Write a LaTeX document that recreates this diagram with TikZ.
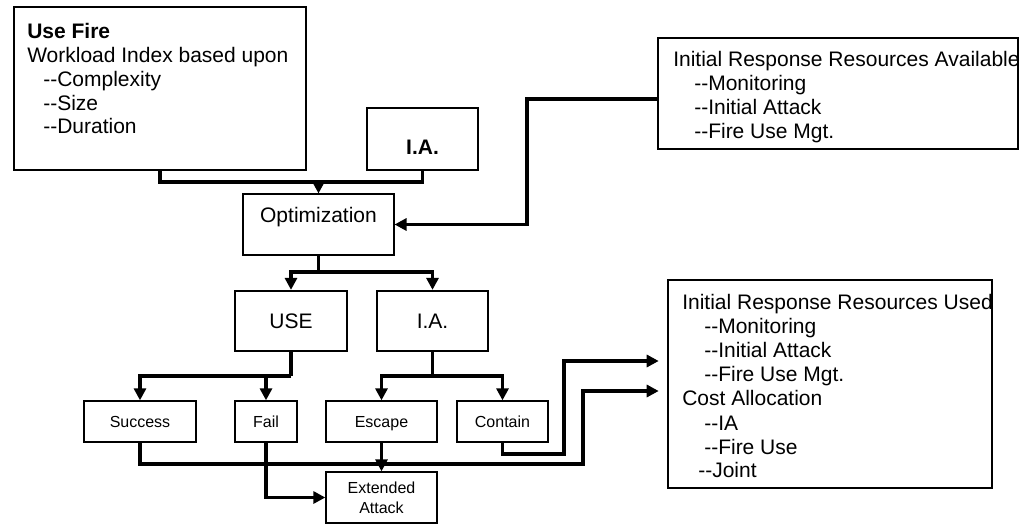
\documentclass[tikz,border=0pt]{standalone}
\usepackage{fontspec}
\setmainfont{Liberation Sans}
\usetikzlibrary{arrows.meta}
\newcommand\bigfnt{\fontsize{15.75pt}{18pt}\selectfont}
\newcommand\smallfnt{\fontsize{12pt}{15pt}\selectfont}
\newcommand\dd{\mbox{-}\mbox{-}}
\begin{document}
\begin{tikzpicture}[x=0.75pt,y=-0.75pt,
  bx/.style 2 args={draw,rectangle,inner sep=0pt,minimum width=#1*0.75pt,minimum height=#2*0.75pt},
  heavy/.style={line width=1.7pt},
  light/.style={line width=0.8pt},
  mid/.style={line width=1pt},
  txt/.style={anchor=base west,inner sep=0pt,font=\bigfnt},
  ctxt/.style={inner sep=0pt,font=\bigfnt},
  sbox/.style={font=\smallfnt,text height=8.7pt,text depth=0pt},
  stxt/.style={font=\smallfnt,align=center},
  conn/.style={line width=2.5pt},
  arr/.style={line width=2.5pt,-{Triangle[length=9pt,width=9pt]}},
]
\useasboundingbox[fill=white] (0,0) rectangle (1034,524);

% ---- top left box
\node[bx={292}{163},heavy] (uf) at (160,88.5) {};
\node[txt] (uf1) at (27,39) {\textbf{Use Fire}};
\node[txt] (uf2) at (27,62.7) {Workload Index based upon};
\node[txt] (uf3) at (43,86.4) {\dd Complexity};
\node[txt] (uf4) at (43,110.1) {\dd Size};
\node[txt] (uf5) at (43,133.8) {\dd Duration};

% ---- top I.A.
\node[bx={111}{62},heavy] (ia1) at (422.5,139) {};
\node[ctxt] (ia1t) at (422.5,147) {\textbf{I.A.}};

% ---- available resources
\node[bx={360}{111},line width=1.9pt] (avail) at (838,93.5) {};
\node[txt] (av1) at (673,67) {Initial Response Resources Available};
\node[txt] (av2) at (694,91) {\dd Monitoring};
\node[txt] (av3) at (694,115) {\dd Initial Attack};
\node[txt] (av4) at (694,139) {\dd Fire Use Mgt.};

% ---- optimization
\node[bx={151}{61},light] (opt) at (318.5,224.5) {};
\node[ctxt] (optt) at (318.5,217) {Optimization};

% ---- USE / I.A.
\node[bx={112}{60},heavy,font=\bigfnt] (use) at (291,321) {USE};
\node[bx={111}{60},heavy,font=\bigfnt] (ia2) at (432.5,321) {I.A.};

% ---- outcomes
\node[bx={112}{41},mid,sbox] (succ) at (140,421.5) {Success};
\node[bx={62}{41},mid,sbox] (fail) at (266,421.5) {Fail};
\node[bx={111}{41},mid,sbox] (esc) at (381.5,421.5) {Escape};
\node[bx={91}{41},mid,sbox] (cont) at (502.5,421.5) {Contain};
\node[bx={111}{51},mid,stxt] (ext) at (381.5,497.5) {Extended\\Attack};

% ---- used resources
\node[bx={324}{208},line width=1.9pt] (used) at (830,384) {};
\node[txt] (us1) at (682,309) {Initial Response Resources Used};
\node[txt] (us2) at (704,333) {\dd Monitoring};
\node[txt] (us3) at (704,357) {\dd Initial Attack};
\node[txt] (us4) at (704,381) {\dd Fire Use Mgt.};
\node[txt] (us5) at (682,405) {Cost Allocation};
\node[txt] (us6) at (704,430) {\dd IA};
\node[txt] (us7) at (704,454) {\dd Fire Use};
\node[txt] (us8) at (698,477) {\dd Joint};

% ---- connectors
\coordinate (j1) at (318.5,182);
\draw[conn] (uf.south) |- (j1) -| (ia1.south);
\draw[arr] (j1) -- (opt.north);
\draw[arr] (avail.west |- 0,99) -| (527,160) |- (opt.east);

\coordinate (j2) at (318.5,272);
\draw[conn] (opt.south) -- (j2);
\draw[arr] (j2) -| (use.north);
\draw[arr] (j2) -| (ia2.north);

\coordinate (j3) at (291,376);
\draw[conn] (use.south) -- (j3);
\draw[arr] (j3) -| (succ.north);
\draw[arr] (j3) -| (fail.north);

\coordinate (j4) at (432.5,376);
\draw[conn] (ia2.south) -- (j4);
\draw[arr] (j4) -| (esc.north);
\draw[arr] (j4) -| (cont.north);

\draw[arr] (esc.south) -- (ext.north);
\draw[arr] (fail.south) |- (ext.west);
\draw[arr,shorten >=6pt] (succ.south) |- (583,464) |- (used.west |- 0,391);
\draw[arr,shorten >=6pt] (cont.south) |- (564,454) |- (used.west |- 0,361);
\end{tikzpicture}
\end{document}
